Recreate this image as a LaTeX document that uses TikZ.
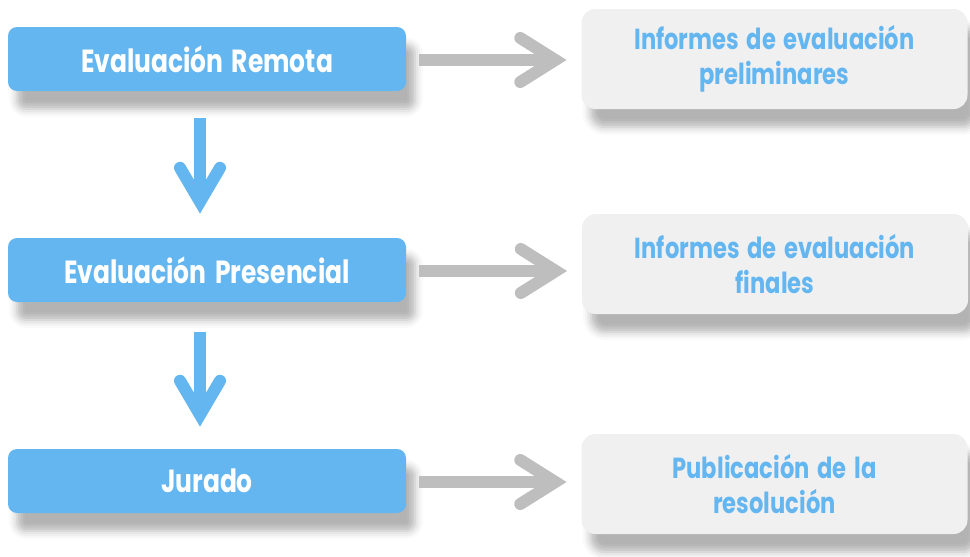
\documentclass[tikz,border=0pt]{standalone}
\usepackage{fontspec}
\setmainfont{Poppins}[FakeStretch=0.78,WordSpace=1.6]
\usetikzlibrary{calc,shadows.blur}
\definecolor{boxblue}{RGB}{100,182,240}
\definecolor{boxgray}{RGB}{240,240,240}
\definecolor{arrgray}{RGB}{190,190,190}
\tikzset{
  myshadow/.style={blur shadow={shadow xshift=9pt, shadow yshift=-18pt, shadow blur radius=8pt, shadow opacity=30}},
  bluebox/.style={rounded corners=9pt, fill=boxblue, text=white, minimum width=398pt, minimum height=64pt, inner sep=0pt, font=\bfseries\fontsize{32}{36}\selectfont, myshadow},
  graybox/.style={rounded corners=14pt, fill=boxgray, text=boxblue, minimum width=386pt, minimum height=100pt, inner sep=0pt, align=center, font=\bfseries\fontsize{29}{35}\selectfont, myshadow},
  hshaft/.style={draw=arrgray, line width=12pt, line cap=butt},
  hhead/.style={draw=arrgray, line width=12pt, line cap=round, line join=miter},
  vshaft/.style={draw=boxblue, line width=12pt, line cap=butt},
  vhead/.style={draw=boxblue, line width=12pt, line cap=round, line join=miter},
}
\begin{document}
\begin{tikzpicture}[x=1pt,y=-1pt]
\useasboundingbox (0,0) rectangle (970,557);
\node[bluebox] (b1) at (207,59) {Evaluación Remota};
\node[bluebox] (b2) at (207,270) {Evaluación Presencial};
\node[bluebox] (b3) at (207,481) {Jurado};
\node[graybox] (g1) at (774.5,59) {Informes de evaluación\\preliminares};
\node[graybox] (g2) at (775,264) {Informes de evaluación\\finales};
\node[graybox] (g3) at (774.5,484) {Publicación de la\\resolución};
% horizontal arrows
\foreach \b/\g in {b1/g1,b2/g2,b3/g3}{
  \coordinate (s\b) at ($(\b.east)+(13,1)$);
  \coordinate (t\b) at ($(\g.west |- \b.east)+(-26,1)$);
  \path[hshaft] (s\b) -- (t\b);
  \path[hhead] ($(t\b)+(-35,-22)$) -- (t\b) -- ($(t\b)+(-35,22)$);
}
% vertical arrows
\coordinate (v1s) at ($(b1.south)+(-7,27)$);
\coordinate (v1t) at ($(b2.north)+(-7,-36)$);
\path[vshaft] (v1s) -- (v1t);
\path[vhead] ($(v1t)+(-20,-34)$) -- (v1t) -- ($(v1t)+(20,-34)$);
\coordinate (v2s) at ($(b2.south)+(-7,30)$);
\coordinate (v2t) at ($(b3.north)+(-7,-34)$);
\path[vshaft] (v2s) -- (v2t);
\path[vhead] ($(v2t)+(-20,-34)$) -- (v2t) -- ($(v2t)+(20,-34)$);
\end{tikzpicture}
\end{document}
